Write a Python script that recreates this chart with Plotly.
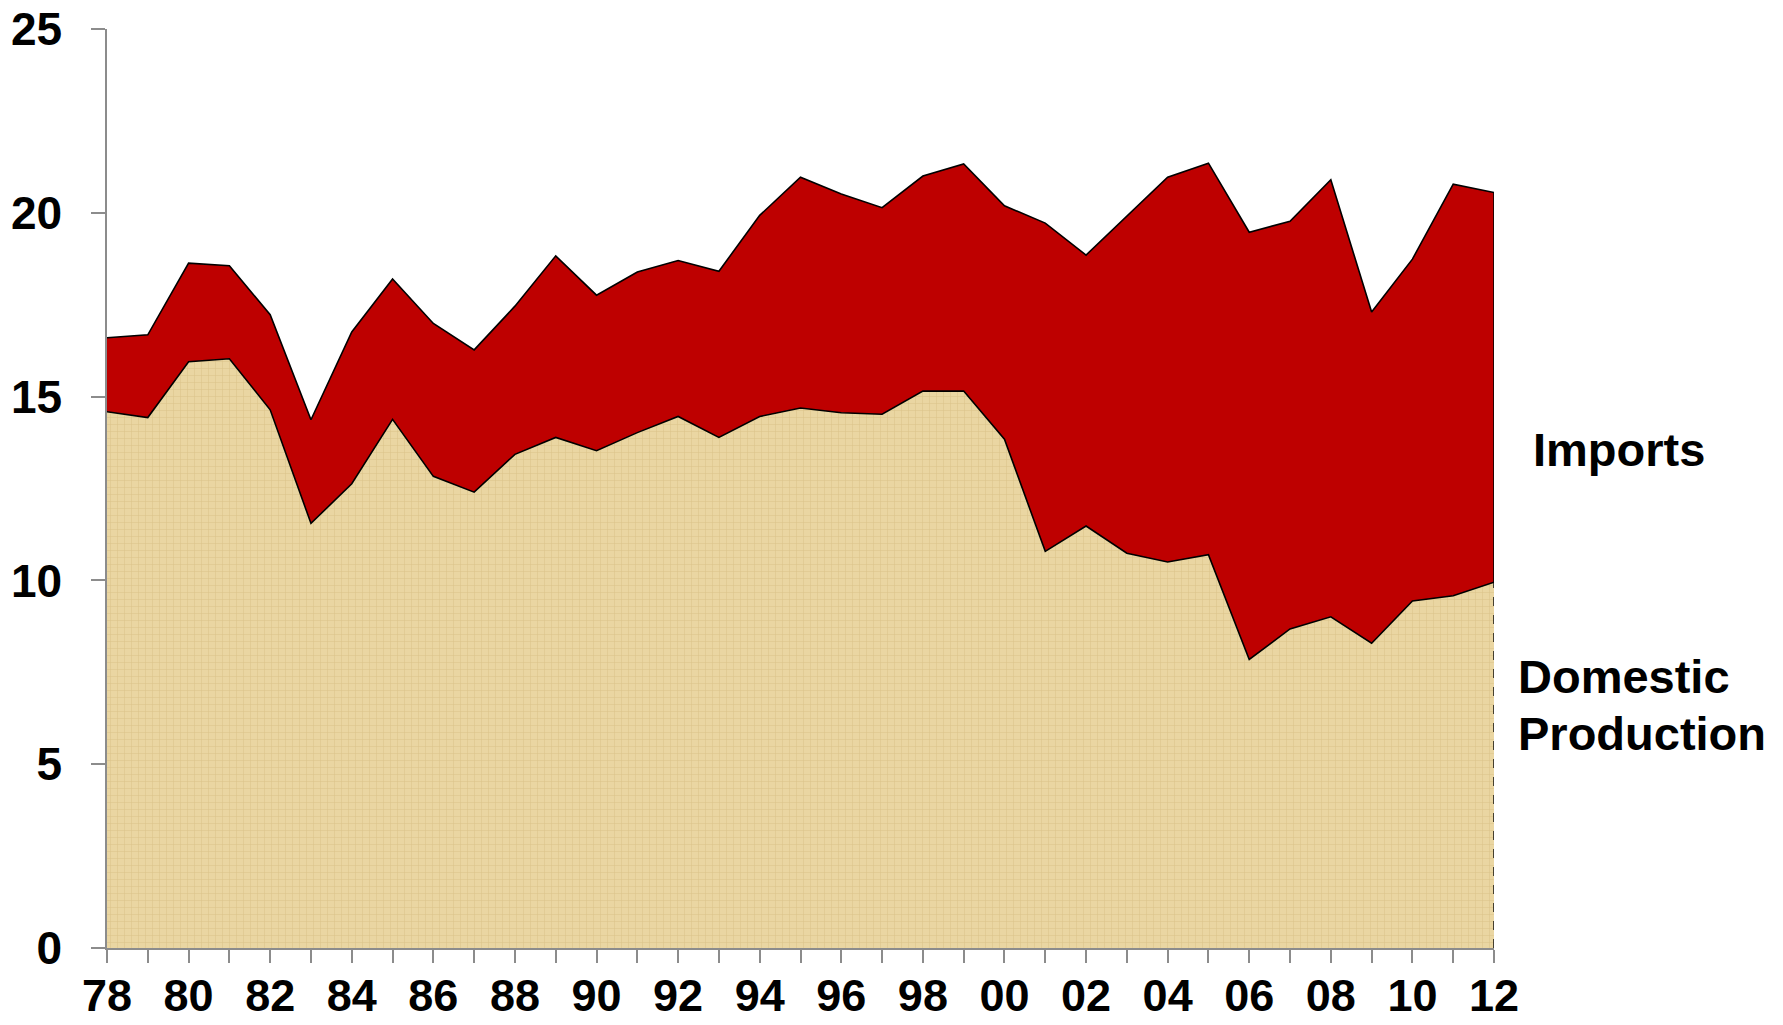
import plotly.graph_objects as go

# U.S. crude oil supply, million barrels per day, 1978-2012
years = list(range(1978, 2013))
domestic = [14.59, 14.43, 15.95, 16.03, 14.64, 11.55, 12.63, 14.38, 12.83, 12.40,
            13.43, 13.89, 13.53, 14.02, 14.46, 13.89, 14.46, 14.69, 14.56, 14.52,
            15.15, 15.15, 13.84, 10.79, 11.48, 10.74, 10.50, 10.70, 7.85, 8.68,
            9.01, 8.29, 9.44, 9.58, 9.95]
imports = [2.01, 2.25, 2.68, 2.53, 2.59, 2.82, 4.13, 3.82, 4.16, 3.87,
           4.03, 4.94, 4.23, 4.37, 4.24, 4.52, 5.47, 6.28, 5.95, 5.62,
           5.85, 6.18, 6.35, 8.93, 7.37, 9.16, 10.47, 10.65, 11.62, 11.09,
           11.89, 9.01, 9.30, 11.20, 10.60]
year_labels = [f"{y % 100:02d}" if (y - 1978) % 2 == 0 else "" for y in years]
y_ticks = [0, 5, 10, 15, 20, 25]

FONT = "Liberation Sans, Arial, sans-serif"
TAN = "#EAD6A2"
RED = "#BE0000"

fig = go.Figure()

fig.add_trace(go.Scatter(
    x=years, y=domestic, name="Domestic Production", stackgroup="supply",
    mode="lines", line=dict(color="black", width=1.6),
    fillcolor=TAN,
    fillpattern=dict(shape="+", bgcolor=TAN, fgcolor="#C2A560",
                     fgopacity=0.4, size=7, solidity=0.14),
))
fig.add_trace(go.Scatter(
    x=years, y=imports, name="Imports", stackgroup="supply",
    mode="lines", line=dict(color="black", width=1.6),
    fillcolor=RED,
))

# closing edges of the two areas at the last year
last = years[-1]
fig.add_trace(go.Scatter(
    x=[last, last], y=[0, domestic[-1]], mode="lines",
    line=dict(color="black", width=1.4, dash="dash"),
    cliponaxis=False, showlegend=False, hoverinfo="skip",
))
fig.add_trace(go.Scatter(
    x=[last, last], y=[domestic[-1], domestic[-1] + imports[-1]], mode="lines",
    line=dict(color="black", width=1.6),
    cliponaxis=False, showlegend=False, hoverinfo="skip",
))

label_font = dict(family=FONT, size=47, color="black", weight="bold")
fig.add_annotation(text="Imports", xref="paper", yref="paper", x=1.0267, y=0.542,
                   xanchor="left", yanchor="middle", showarrow=False, font=label_font)
fig.add_annotation(text="Domestic", xref="paper", yref="paper", x=1.0159, y=0.2953,
                   xanchor="left", yanchor="middle", showarrow=False, font=label_font)
fig.add_annotation(text="Production", xref="paper", yref="paper", x=1.0159, y=0.2335,
                   xanchor="left", yanchor="middle", showarrow=False, font=label_font)

tick_font = dict(family=FONT, size=46, color="black", weight="bold")
fig.update_layout(
    width=1783, height=1025,
    margin=dict(l=107, r=289, t=29, b=77),
    paper_bgcolor="white", plot_bgcolor="white",
    showlegend=False,
    font=dict(family=FONT),
    xaxis=dict(
        range=[years[0], years[-1]], tickmode="array", tickvals=years, ticktext=year_labels,
        ticks="outside", ticklen=13, tickwidth=1.5, tickcolor="#8C8C8C",
        showline=True, linecolor="#8C8C8C", linewidth=1.5,
        showgrid=False, zeroline=False, tickangle=0,
        tickfont=dict(family=FONT, size=45, color="black", weight="bold"),
        ticklabelstandoff=-6, automargin=False,
    ),
    yaxis=dict(
        range=[0, 25], tickmode="array", tickvals=y_ticks,
        ticks="outside", ticklen=14, tickwidth=1.5, tickcolor="#8C8C8C",
        showline=True, linecolor="#8C8C8C", linewidth=1.5,
        showgrid=False, zeroline=False, tickfont=tick_font,
        ticklabelstandoff=20, automargin=False,
    ),
)

fig.write_html("out.html")
